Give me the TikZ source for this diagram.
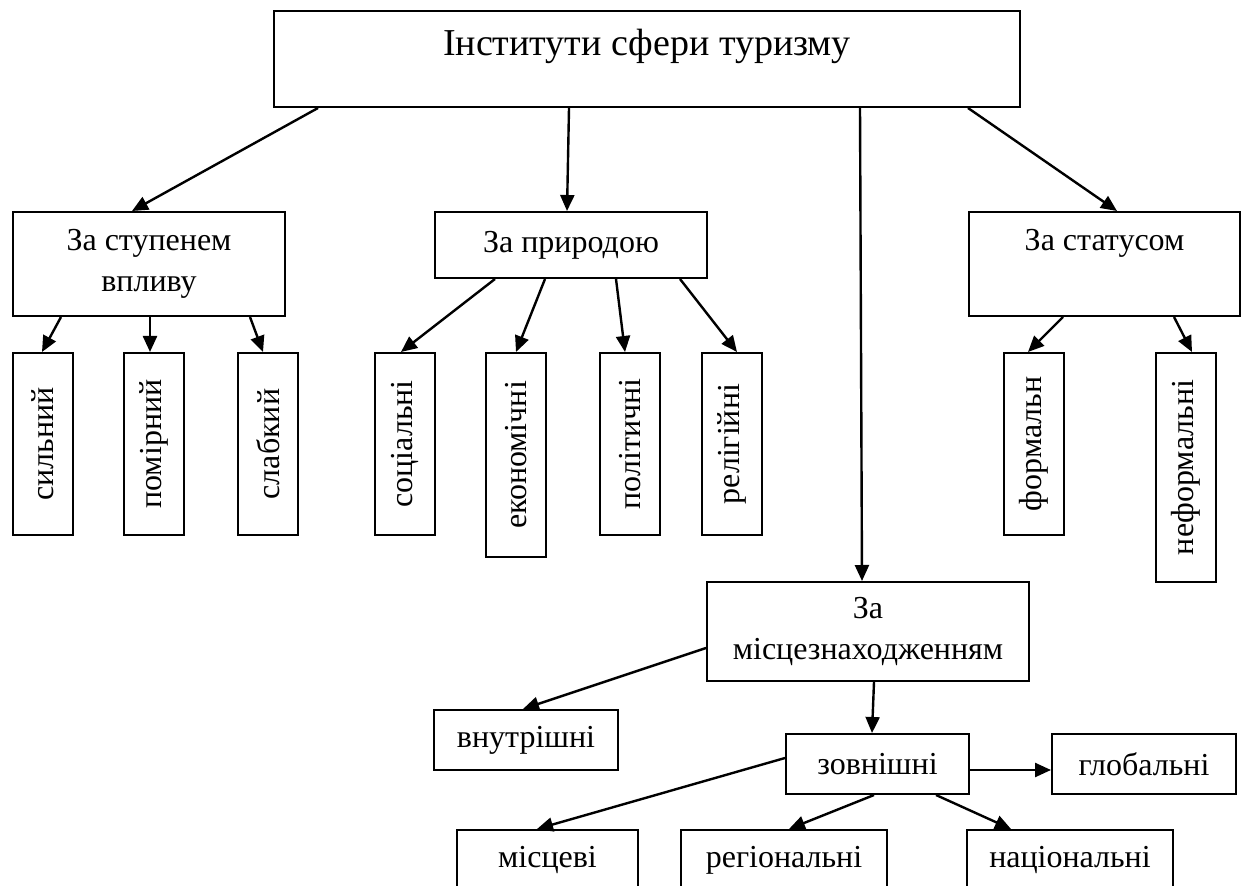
\documentclass[tikz,border=0pt]{standalone}
\usepackage{fontspec}
\setmainfont{Liberation Serif}
\usetikzlibrary{arrows.meta,calc}

\begin{document}
\begin{tikzpicture}[x=0.5pt,y=-0.5pt,
  box/.style={draw, line width=1pt, anchor=north west, inner sep=0pt,
    align=center, font=\fontsize{16}{20.5}\selectfont},
  vert/.style={box, minimum width=30pt, minimum height=91pt},
  small/.style={box, minimum width=92pt, minimum height=30pt},
  arr/.style={-{Triangle[length=8pt,width=7pt]}, line width=1.2pt}]
\useasboundingbox (0,0) rectangle (1241,886);

% Top box
\node[box, minimum width=373pt, minimum height=48pt,
  font=\fontsize{19}{23}\selectfont, text height=22.5pt, text depth=25.5pt]
  (inst) at (273,10) {Інститути сфери туризму};

% Second level
\node[box, minimum width=136pt, minimum height=52pt] (stup) at (12,211) {За ступенем\\впливу};
\node[box, minimum width=136pt, minimum height=33pt] (pryr) at (434,211) {За природою};
\node[box, minimum width=135.5pt, minimum height=52pt,
  text height=19.5pt, text depth=32.5pt] (stat) at (968,211) {За статусом};
\node[box, minimum width=161pt, minimum height=49.5pt] (mistse) at (706,581) {За\\місцезнаходженням};

% Vertical boxes
\node[vert] (syl) at (12,352) {\rotatebox{90}{сильний}};
\node[vert] (pom) at (123,352) {\rotatebox{90}{помірний}};
\node[vert] (slab) at (237,352) {\rotatebox{90}{слабкий}};
\node[vert] (soc) at (374,352) {\rotatebox{90}{соціальні}};
\node[vert, minimum height=102pt] (ekon) at (485,352) {\rotatebox{90}{економічні}};
\node[vert] (polit) at (599,352) {\rotatebox{90}{політичні}};
\node[vert] (relig) at (701,352) {\rotatebox{90}{релігійні}};
\node[vert] (form) at (1003,352) {\rotatebox{90}{формальн}};
\node[vert, minimum height=114.5pt] (neform) at (1155,352) {\rotatebox{90}{неформальні}};

% Location boxes
\node[small] (vnutr) at (433,709) {внутрішні};
\node[small, minimum width=91.5pt] (zovn) at (785,733) {зовнішні};
\node[small] (glob) at (1051,733) {глобальні};
\node[small, minimum width=90.5pt] (mists) at (456,829) {місцеві};
\node[small, minimum width=103pt] (region) at (680,829) {регіональні};
\node[small, minimum width=103pt] (nats) at (966,829) {національні};

% Arrows from the top box
\draw[arr] ($(inst.south west)+(45,0)$) -- ($(stup.north west)+(120,0)$);
\draw[arr] ($(inst.south west)+(296,0)$) -- ($(pryr.north west)+(133,0)$);
\draw[arr] ($(inst.south west)+(587,0)$) -- ($(mistse.north west)+(156,0)$);
\draw[arr] ($(inst.south west)+(695,0)$) -- ($(stat.north west)+(149,0)$);

% Degree of influence
\draw[arr] ($(stup.south west)+(49,0)$) -- ($(syl.north west)+(30,0)$);
\draw[arr] ($(stup.south west)+(138,0)$) -- ($(pom.north west)+(27,0)$);
\draw[arr] ($(stup.south west)+(238,0)$) -- ($(slab.north west)+(26,0)$);

% Nature
\draw[arr] ($(pryr.south west)+(61,0)$) -- ($(soc.north west)+(27,0)$);
\draw[arr] ($(pryr.south west)+(111,0)$) -- ($(ekon.north west)+(31,0)$);
\draw[arr] ($(pryr.south west)+(182,0)$) -- ($(polit.north west)+(26,0)$);
\draw[arr] ($(pryr.south west)+(246,0)$) -- ($(relig.north west)+(36,0)$);

% Status
\draw[arr] ($(stat.south west)+(95,0)$) -- ($(form.north west)+(25,0)$);
\draw[arr] ($(stat.south west)+(206,0)$) -- ($(neform.north west)+(37,0)$);

% Location
\draw[arr] ($(mistse.north west)+(0,67)$) -- ($(vnutr.north west)+(90,0)$);
\draw[arr] ($(mistse.south west)+(168,0)$) -- ($(zovn.north west)+(87,0)$);
\draw[arr] ($(zovn.east)+(0,6)$) -- ($(glob.west)+(0,6)$);
\draw[arr] ($(zovn.west)+(0,-6)$) -- ($(mists.north west)+(81,0)$);
\draw[arr] ($(zovn.south west)+(89,0)$) -- ($(region.north west)+(109,0)$);
\draw[arr] ($(zovn.south west)+(151,0)$) -- ($(nats.north west)+(45,0)$);
\end{tikzpicture}
\end{document}
